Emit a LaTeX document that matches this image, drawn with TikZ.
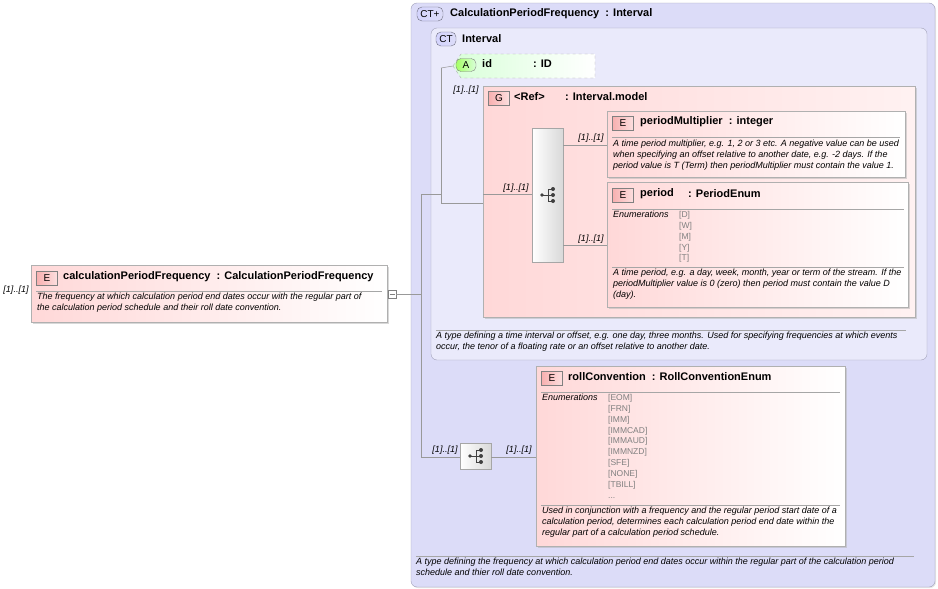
\documentclass[tikz,border=0pt]{standalone}
\usepackage{fontspec}
\setmainfont{Liberation Sans}
\usetikzlibrary{shadows,calc}
\definecolor{ctfill}{HTML}{DCDCF8}
\definecolor{ctline}{HTML}{A0A0B8}
\definecolor{efill}{HTML}{FFD8D8}
\definecolor{eline}{HTML}{B0B0B0}
\definecolor{badge}{HTML}{F8B0B0}
\tikzset{
 ct/.style={draw=ctline,fill=ctfill,rounded corners=6pt},
 elem/.style={draw=eline,left color=efill,right color=white,drop shadow={shadow xshift=1.5pt,shadow yshift=-1.5pt,fill=gray!60}},
 gbox/.style={draw=eline,left color=efill,right color=efill!35,drop shadow={shadow xshift=2pt,shadow yshift=-2pt,fill=gray!60}},
 ttl/.style={font=\bfseries\fontsize{11}{12}\selectfont,anchor=west,inner sep=0pt},
 desc/.style={font=\itshape\fontsize{9}{11}\selectfont,anchor=north west,inner sep=0pt,align=left},
 enm/.style={font=\fontsize{8.5}{10.9}\selectfont,anchor=north west,inner sep=0pt,align=left,text=gray},
 card/.style={font=\itshape\fontsize{9}{10}\selectfont,inner sep=0pt},
 badgeE/.style={draw=gray,left color=badge,right color=badge!40,font=\fontsize{10}{11}\selectfont,minimum width=21pt,minimum height=14pt,inner sep=0pt},
 ctbadge/.style={draw=ctline!70!black,left color=ctfill!60!blue!35,right color=ctfill,rounded corners=5pt,font=\fontsize{10}{11}\selectfont,minimum height=14pt,inner sep=0pt},
 conn/.style={draw=gray!80,line width=0.5pt},
 seq/.style={draw=gray!70,left color=white,right color=gray!30,drop shadow={shadow xshift=1pt,shadow yshift=-1pt,fill=gray!50}},
 sep/.style={draw=gray!70,line width=0.5pt},
}
\newcommand{\seqicon}[2]{%
 \begin{scope}[shift={(#1,#2)}]
 \draw[black!75,line width=0.8pt] (-6,0) -- (0,0) (0,-6) -- (0,6) (0,-6) -- (5,-6) (0,0) -- (5,0) (0,6) -- (5,6);
 \fill[black!75] (-6,0) circle (1.8pt) (5,-6) circle (2pt) (5,0) circle (2pt) (5,6) circle (2pt);
 \end{scope}}
\begin{document}
\begin{tikzpicture}[x=1pt,y=-1pt]
\useasboundingbox (0,0) rectangle (938,589);
\draw[ct,drop shadow={shadow xshift=1pt,shadow yshift=-1pt,fill=gray!40}] (411,3) rectangle (935,587);
\node[ctbadge,minimum width=26pt] (ctb1) at (430,14) {CT+};
\node[ttl] (t1) at (450,14) {CalculationPeriodFrequency\ \ : Interval};
\draw[sep] (416,556) -- (914,556);
\node[desc] (d1) at (416,558) {A type defining the frequency at which calculation period end dates occur within the regular part of the calculation period\\schedule and thier roll date convention.};
\draw[ct,fill=ctfill!60!white] (431,28) rectangle (927,360);
\node[ctbadge,minimum width=20pt] (ctb2) at (446,39) {CT};
\node[ttl] (t2) at (462,39) {Interval};
\draw[sep] (436,330) -- (906,330);
\node[desc] (d2) at (436,332) {A type defining a time interval or offset, e.g. one day, three months. Used for specifying frequencies at which events\\occur, the tenor of a floating rate or an offset relative to another date.};
\draw[draw=gray!70,dashed,left color=green!15,right color=white] (453,66) -- (461,54) -- (595,54) -- (595,78) -- (461,78) -- cycle;
\node[draw=gray,left color=green!45!lime!60,right color=green!15,rounded corners=5pt,font=\fontsize{10}{11}\selectfont,minimum width=20pt,minimum height=13pt,inner sep=0pt] (ab) at (466,65) {A};
\node[ttl] (idn) at (482,64) {id};
\node[ttl] at (533,64) {: ID};
\coordinate (idL) at (453,66);
\draw[gbox] (483,86) rectangle (915,317);
\node[badgeE] (gb) at (499,98) {G};
\node[ttl] (gt) at (514,97) {<Ref>};
\node[ttl] at (565,97) {: Interval.model};
\node[seq,minimum width=31pt,minimum height=134pt,inner sep=0pt] (s1) at (547.5,195) {};
\seqicon{548}{195}
\draw[elem] (607,111) rectangle (905,177);
\node[badgeE] (pmb) at (623,123) {E};
\node[ttl] (pm) at (640,122) {periodMultiplier\ \ : integer};
\draw[sep] (612,137) -- (900,137);
\node[desc] (pmd) at (613,139.5) {A time period multiplier, e.g. 1, 2 or 3 etc. A negative value can be used\\when specifying an offset relative to another date, e.g. -2 days. If the\\period value is T (Term) then periodMultiplier must contain the value 1.};
\draw[elem] (607,182) rectangle (908,307);
\node[badgeE] (pb) at (623,195) {E};
\node[ttl] (pn) at (640,194) {period};
\node[ttl] at (688,194) {: PeriodEnum};
\draw[sep] (612,209) -- (904,209);
\node[desc] at (613,211) {Enumerations};
\node[enm] at (679,211) {[D]\\{}[W]\\{}[M]\\{}[Y]\\{}[T]};
\draw[sep] (612,267) -- (904,267);
\node[desc] at (613,269) {A time period, e.g. a day, week, month, year or term of the stream. If the\\periodMultiplier value is 0 (zero) then period must contain the value D\\(day).};
\draw[elem] (536,366) rectangle (845,546);
\node[badgeE] (rb) at (552,378) {E};
\node[ttl] (rn) at (568,377) {rollConvention\ \ : RollConventionEnum};
\draw[sep] (541,392) -- (840,392);
\node[desc] at (542,394) {Enumerations};
\node[enm] at (608,394) {[EOM]\\{}[FRN]\\{}[IMM]\\{}[IMMCAD]\\{}[IMMAUD]\\{}[IMMNZD]\\{}[SFE]\\{}[NONE]\\{}[TBILL]\\...};
\draw[sep] (541,505) -- (840,505);
\node[desc] at (542,507) {Used in conjunction with a frequency and the regular period start date of a\\calculation period, determines each calculation period end date within the\\regular part of a calculation period schedule.};
\node[seq,minimum width=31pt,minimum height=26pt,inner sep=0pt] (s2) at (475.5,456) {};
\seqicon{476}{456}
\draw[elem] (31,265) rectangle (387,322);
\node[badgeE] (lb) at (47,278) {E};
\node[ttl] (ln) at (63,277) {calculationPeriodFrequency\ \ : CalculationPeriodFrequency};
\draw[sep] (36,291) -- (382,291);
\node[desc] at (37,293) {The frequency at which calculation period end dates occur with the regular part of\\the calculation period schedule and their roll date convention.};
\node[card] (c0) at (16,290) {[1]..[1]};
\node[draw=gray,fill=white,minimum size=8pt,inner sep=0pt] (mn) at (392,294) {};
\draw[gray] (389.5,294) -- (394.5,294);
\coordinate (j1) at (421,294);
\coordinate (j2) at (421,194);
\coordinate (j3) at (421,457);
\coordinate (k1) at (441,194);
\coordinate (k2) at (441,68);
\coordinate (k3) at (441,203);
\draw[conn] (mn.east) -- (j1);
\draw[conn] (j2) -- (j3);
\draw[conn] (j2) -- (k1);
\draw[conn] (k2) -- (k3);
\draw[conn] (k2) -- (idL);
\draw[conn] (k3) -- (483,203);
\draw[conn] (483,194) -- (s1.west |- 0,194);
\draw[conn] (j3) -- (s2.west |- 0,457);
\draw[conn] (s2.east |- 0,457) -- (536,457);
\draw[conn] (s1.east |- 0,145) -- (607,145);
\draw[conn] (s1.east |- 0,245) -- (607,245);
\node[card] at (466,90) {[1]..[1]};
\node[card] at (516,188) {[1]..[1]};
\node[card] at (591,138) {[1]..[1]};
\node[card] at (591,239) {[1]..[1]};
\node[card] at (445,450) {[1]..[1]};
\node[card] at (519,450) {[1]..[1]};
\end{tikzpicture}
\end{document}
